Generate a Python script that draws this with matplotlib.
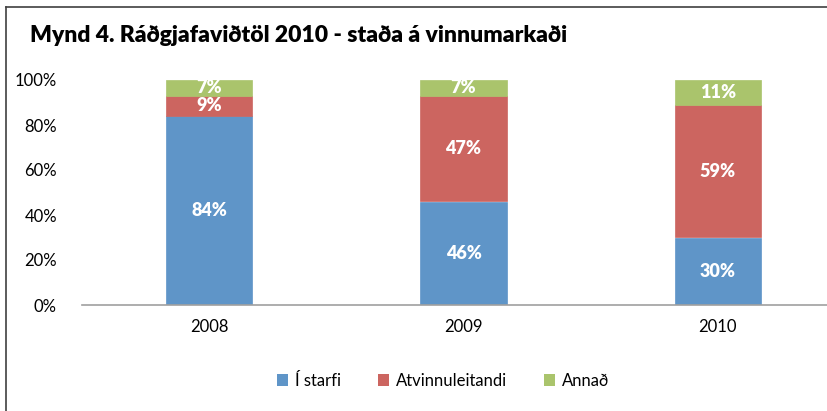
import matplotlib
matplotlib.use("Agg")
import matplotlib.pyplot as plt
from matplotlib.lines import Line2D
from matplotlib.patches import Patch

years = ["2008", "2009", "2010"]
series_names = ["Í starfi", "Atvinnuleitandi", "Annað"]
i_starfi = [84, 46, 30]
atvinnuleitandi = [9, 47, 59]
annad = [7, 7, 11]
yticks = [0, 20, 40, 60, 80, 100]
title = "Mynd 4. Ráðgjafaviðtöl 2010 - staða á vinnumarkaði"

colors = ["#5F95C8", "#CC6560", "#AAC46C"]

plt.rcParams['font.family'] = ['Lato', 'DejaVu Sans']

fig = plt.figure(figsize=(8.27, 4.11), dpi=100)
ax = fig.add_axes([82/827, 1-305/411, (845-82)/827, (305-80)/411])

x = list(range(len(years)))
bottoms = [0]*len(years)
for vals, col in zip([i_starfi, atvinnuleitandi, annad], colors):
    ax.bar(x, vals, width=0.34, bottom=bottoms, color=col, edgecolor=col, linewidth=0.5)
    for xi, v, b in zip(x, vals, bottoms):
        ax.text(xi, b + v/2, f"{v}%", ha='center', va='center', color='white',
                fontsize=13, fontweight='heavy')
    bottoms = [b + v for b, v in zip(bottoms, vals)]

ax.set_xlim(-0.5, 2.5)
ax.set_ylim(0, 100)
ax.set_yticks(yticks)
ax.set_yticklabels([f"{t}%" for t in yticks], fontsize=12)
ax.set_xticks(x)
ax.set_xticklabels(years, fontsize=12)
ax.tick_params(axis='y', length=0, pad=18)
ax.tick_params(axis='x', length=0, pad=10)
for s in ['top', 'right', 'left']:
    ax.spines[s].set_visible(False)
ax.spines['bottom'].set_color('#A0A0A0')
ax.spines['bottom'].set_linewidth(1.2)

fig.text(30/827, 1-35/411, title, fontsize=16.5, fontweight='heavy', ha='left', va='center')

handles = [Patch(facecolor=c, edgecolor='none') for c in colors]
fig.legend(handles, series_names, loc='center', bbox_to_anchor=(443/827, 1-381/411),
           ncol=3, frameon=False, fontsize=12, handlelength=0.7, handleheight=0.7,
           handletextpad=0.4, columnspacing=2.2)

fig.add_artist(Line2D([6/827, 6/827], [0, 1-7/411], transform=fig.transFigure, color='#404040', lw=1.2))
fig.add_artist(Line2D([6/827, 1], [1-7/411, 1-7/411], transform=fig.transFigure, color='#404040', lw=1.2))

fig.savefig("out.png", dpi=100)
